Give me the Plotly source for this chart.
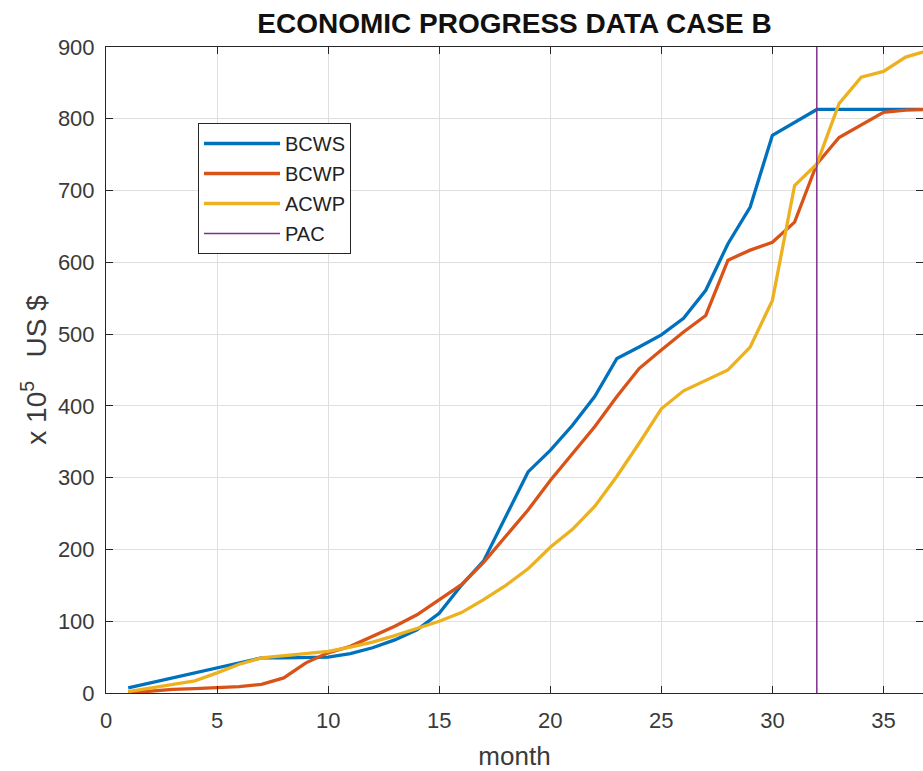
import plotly.graph_objects as go

# Monthly earned-value figures, in units of 10^5 US $
months = list(range(1, 38))

bcws = [7, 14, 21, 28, 35, 42, 49, 49, 50, 50,
        55, 63, 74, 88, 111, 150, 184, 245, 308, 338,
        373, 413, 466, 482, 499, 522, 561, 626, 677, 777,
        795, 813, 813, 813, 813, 813, 813]

bcwp = [0, 3, 5, 6, 7, 9, 12, 21, 42, 56,
        65, 79, 93, 109, 130, 151, 182, 218, 255, 296,
        334, 371, 413, 452, 478, 503, 526, 603, 617, 628,
        656, 737, 774, 792, 809, 812, 813]

acwp = [2, 7, 12, 17, 28, 40, 49, 52, 55, 58,
        64, 71, 80, 90, 100, 112, 130, 150, 173, 203,
        228, 260, 302, 348, 396, 421, 435, 450, 482, 547,
        707, 737, 821, 858, 866, 886, 895]

pac_month = 32
pac_span = [0, 900]

x_ticks = list(range(0, 40, 5))
y_ticks = list(range(0, 1000, 100))

series = [
    ("BCWS", bcws, "#0072BD"),
    ("BCWP", bcwp, "#D95319"),
    ("ACWP", acwp, "#EDB120"),
]

FONT = "Liberation Sans, Arial, Helvetica, sans-serif"
AXIS_COLOR = "#262626"
GRID_COLOR = "#dfdfdf"

fig = go.Figure()

for name, values, color in series:
    fig.add_trace(go.Scatter(
        x=months, y=values, name=name, mode="lines",
        line=dict(color=color, width=3.3),
        legendgroup=name,
    ))

fig.add_trace(go.Scatter(
    x=[pac_month, pac_month], y=pac_span, name="PAC", mode="lines",
    line=dict(color="#7E2F8E", width=1.5),
    legendgroup="PAC",
))

axis_common = dict(
    showline=True, linecolor=AXIS_COLOR, linewidth=1,
    ticks="inside", ticklen=7, tickcolor=AXIS_COLOR, tickwidth=1,
    showgrid=True, gridcolor=GRID_COLOR, gridwidth=1,
    zeroline=False,
    tickfont=dict(family=FONT, size=22, color="#3a3a3a"),
)

fig.update_layout(
    width=923, height=771,
    margin=dict(l=106, r=0, t=47, b=78),
    paper_bgcolor="white", plot_bgcolor="white",
    title=dict(
        text="<b>ECONOMIC PROGRESS DATA CASE B</b>",
        font=dict(family=FONT, size=28, color="#111111"),
        x=0.5, xref="paper", xanchor="center",
        y=1 - 23 / 771, yref="container", yanchor="middle",
    ),
    xaxis=dict(
        range=[0, 36.78], tickvals=x_ticks, mirror="ticks",
        ticklabelstandoff=8,
        title=dict(text="month", font=dict(family=FONT, size=26, color="#3a3a3a"),
                   standoff=15),
        **axis_common,
    ),
    yaxis=dict(
        range=[0, 900], tickvals=y_ticks, mirror="ticks",
        ticklabelstandoff=6,
        title=dict(text="x 10<sup>5</sup>   US $",
                   font=dict(family=FONT, size=28, color="#3a3a3a"),
                   standoff=3),
        **axis_common,
    ),
    legend=dict(
        x=(198 - 106) / 817, y=(693 - 123) / 646,
        xanchor="left", yanchor="top",
        bgcolor="white", bordercolor=AXIS_COLOR, borderwidth=1,
        font=dict(family=FONT, size=20, color="#222222"),
        traceorder="grouped", tracegroupgap=1,
        itemwidth=76,
        entrywidth=78, entrywidthmode="pixels",
    ),
    showlegend=True,
)

fig.write_html("out.html")
